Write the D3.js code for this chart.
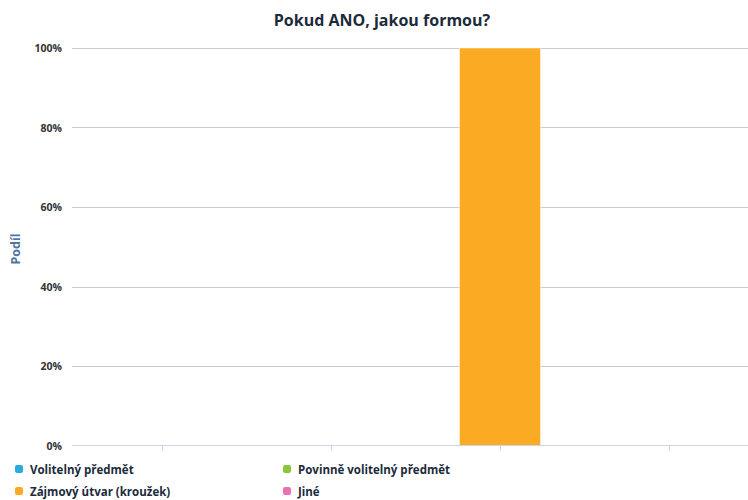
<!DOCTYPE html>
<html><head><meta charset="utf-8">
<script src="https://cdn.jsdelivr.net/npm/d3@7"></script>
<style>body{margin:0;background:#fff;} svg{display:block;font-family:"Open Sans","DejaVu Sans",sans-serif;}</style>
</head><body><svg id="c" width="748" height="500"></svg>
<script>
const categories = ["Volitelný předmět","Povinně volitelný předmět","Zájmový útvar (kroužek)","Jiné"];
const values = [0, 0, 1, 0];
const colors = ["#29abe2","#8cc63f","#fbaa24","#e872b4"];
const yTicks = [0,0.2,0.4,0.6,0.8,1];
const tickLabels = ["0%","20%","40%","60%","80%","100%"];

const svg = d3.select("#c");
const x = d3.scaleBand().domain(categories).range([77.5,753.5]).paddingInner(0.52).paddingOuter(0.26);
const xb = d3.scaleBand().domain(categories).range([77.5,753.5]);
const y = d3.scaleLinear().domain([0,1]).range([445.5,48]);

svg.append("text").attr("x",382).attr("y",26).attr("text-anchor","middle")
  .attr("font-size",16).attr("font-weight","bold").attr("fill","#1c2b3b").text("Pokud ANO, jakou formou?");

// gridlines
svg.append("g").selectAll("line").data(yTicks.filter(d=>d>0)).join("line")
  .attr("x1",72).attr("x2",748).attr("y1",d=>Math.round(y(d))+0.5).attr("y2",d=>Math.round(y(d))+0.5)
  .attr("stroke","#cccccc").attr("stroke-width",1);

// y labels
svg.append("g").selectAll("text").data(yTicks).join("text")
  .attr("x",62).attr("y",d=>y(d)+4).attr("text-anchor","end")
  .attr("font-size",10.5).attr("font-weight","bold").attr("fill","#333")
  .text((d,i)=>tickLabels[i]);

// bars
svg.append("g").selectAll("rect").data(categories).join("rect")
  .attr("x",d=>x(d)).attr("width",x.bandwidth())
  .attr("y",(d,i)=>y(values[i])).attr("height",(d,i)=>y(0)-y(values[i]))
  .attr("fill",(d,i)=>colors[i]).attr("stroke","#fff").attr("stroke-width",0.5);

// x axis line and ticks
svg.append("line").attr("x1",72).attr("x2",748).attr("y1",445.5).attr("y2",445.5).attr("stroke","#ccd6eb");
svg.append("g").selectAll("line").data(categories).join("line")
  .attr("x1",d=>Math.round(xb(d)+xb.bandwidth()/2)+0.5).attr("x2",d=>Math.round(xb(d)+xb.bandwidth()/2)+0.5)
  .attr("y1",445.5).attr("y2",450.5).attr("stroke","#ccd6eb");

// y title
svg.append("text").attr("transform","translate(20,249) rotate(-90)").attr("text-anchor","middle")
  .attr("font-size",12.5).attr("font-weight","bold").attr("fill","#4f77a0").text("Podíl");

// legend
const lg = svg.append("g").selectAll("g").data(categories).join("g")
  .attr("transform",(d,i)=>`translate(${i%2===0?15:283},${i<2?465:487})`);
lg.append("rect").attr("width",8).attr("height",8).attr("rx",2).attr("fill",(d,i)=>colors[i]);
lg.append("text").attr("x",15).attr("y",8.5).attr("font-size",11.5).attr("font-weight","bold").attr("fill","#1c2b3b").text(d=>d);
</script></body></html>
